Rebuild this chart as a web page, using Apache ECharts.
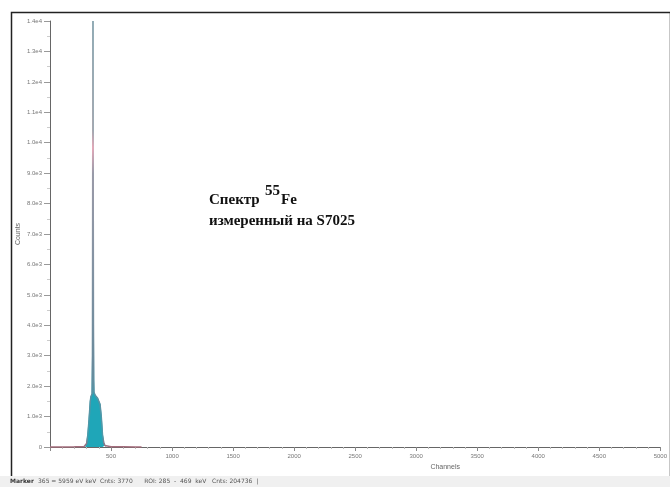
<!DOCTYPE html>
<html><head><meta charset="utf-8">
<script src="https://cdn.jsdelivr.net/npm/echarts@6/dist/echarts.min.js"></script>
<style>html,body{margin:0;padding:0;background:#fff}#c{width:670px;height:487px}</style>
</head><body><div id="c"></div>
<script>
// Spectrum (channels -> counts)
const channels = [0, 50, 100, 150, 200, 250, 280, 290, 300, 310, 320, 330, 335, 340, 345, 348, 350, 352, 354, 356, 358, 360, 365, 370, 380, 390, 400, 410, 420, 430, 440, 450, 460, 500, 600, 700, 750];
const counts   = [0, 0, 2, 3, 5, 8, 15, 40, 120, 400, 900, 1500, 1650, 1700, 1750, 3000, 9800, 14000, 9000, 4000, 2200, 1800, 1750, 1700, 1650, 1600, 1550, 1400, 1000, 400, 150, 50, 20, 8, 5, 3, 2];
// ROI region (filled)
const roiStart = 285, roiEnd = 469;
const xTicks = [500, 1000, 1500, 2000, 2500, 3000, 3500, 4000, 4500, 5000];

const spectrum = channels.map((c, i) => [c, counts[i]]);
const roi = spectrum.filter(p => p[0] >= roiStart && p[0] <= roiEnd);

const chart = echarts.init(document.getElementById('c'));
chart.setOption({
  animation: false,
  backgroundColor: '#fff',
  grid: {left: 50, right: 4, top: 21, bottom: 40},
  xAxis: {
    type: 'value', min: 0, max: 5000, interval: 500,
    name: 'Channels', nameLocation: 'middle', nameGap: 17,
    nameTextStyle: {fontSize: 7, color: '#666', padding: [0, 0, 0, 180]},
    axisLine: {lineStyle: {color: '#666', width: 1}},
    axisTick: {show: true, length: 4, inside: false, lineStyle: {color: '#888'}},
    minorTick: {show: true, splitNumber: 5, length: 2, lineStyle: {color: '#bbb'}},
    axisLabel: {fontSize: 6, color: '#777', margin: 6,
      formatter: v => xTicks.indexOf(v) >= 0 ? String(v) : ''},
    splitLine: {show: false}
  },
  yAxis: {
    type: 'value', min: 0, max: 14000, interval: 1000,
    name: 'Counts', nameLocation: 'middle', nameGap: 28, nameRotate: 90,
    nameMoveOverlap: false,
    nameTextStyle: {fontSize: 7, color: '#666'},
    axisLine: {show: true, lineStyle: {color: '#666', width: 1}},
    axisTick: {show: true, length: 6, lineStyle: {color: '#999'}},
    minorTick: {show: true, splitNumber: 2, length: 3, lineStyle: {color: '#ccc'}},
    axisLabel: {fontSize: 6, color: '#777', margin: 8,
      formatter: v => v === 0 ? '0' : v.toExponential(1).replace('e+', 'e')},
    splitLine: {show: false}
  },
  series: [
    {
      type: 'line', data: roi, symbol: 'none', z: 2,
      lineStyle: {color: '#1aa0b4', width: 1},
      areaStyle: {color: '#1fa6b8', opacity: 1}
    },
    {
      type: 'line', data: spectrum, symbol: 'none', z: 3,
      lineStyle: {width: 1.5, color: new echarts.graphic.LinearGradient(0, 0, 0, 1, [
        {offset: 0, color: '#a8a8b0'},
        {offset: 0.26, color: '#a8a8b0'},
        {offset: 0.3, color: '#e8a8b8'},
        {offset: 0.36, color: '#9a9aa8'},
        {offset: 0.8, color: '#6a8a9c'},
        {offset: 0.97, color: '#4a9aaa'},
        {offset: 1, color: '#c06070'}
      ])}
    }
  ],
  graphic: [
    {type: 'rect', left: 9, top: 10, shape: {width: 659, height: 465}, style: {fill: 'none', stroke: '#222', lineWidth: 1.5}, silent: true},
    {type: 'rect', left: 0, top: 476, shape: {width: 670, height: 11}, style: {fill: '#f0f0f0'}, silent: true},
    {type: 'text', left: 10, top: 478, style: {text: 'Marker', font: 'bold 6px "DejaVu Sans"', fill: '#333'}},
    {type: 'text', left: 38, top: 478, style: {text: '365 = 5959 eV keV  Cnts: 3770      ROI: 285  -  469  keV   Cnts: 204736  |', font: '6px "DejaVu Sans"', fill: '#555'}},
    {type: 'text', left: 209, top: 193, style: {text: 'Спектр', font: 'bold 15px "Liberation Serif"', fill: '#111'}},
    {type: 'text', left: 265, top: 184, style: {text: '55', font: 'bold 15px "Liberation Serif"', fill: '#111'}},
    {type: 'text', left: 281, top: 193, style: {text: 'Fe', font: 'bold 15px "Liberation Serif"', fill: '#111'}},
    {type: 'text', left: 209, top: 214, style: {text: 'измеренный на S7025', font: 'bold 15px "Liberation Serif"', fill: '#111'}}
  ]
});
</script></body></html>
